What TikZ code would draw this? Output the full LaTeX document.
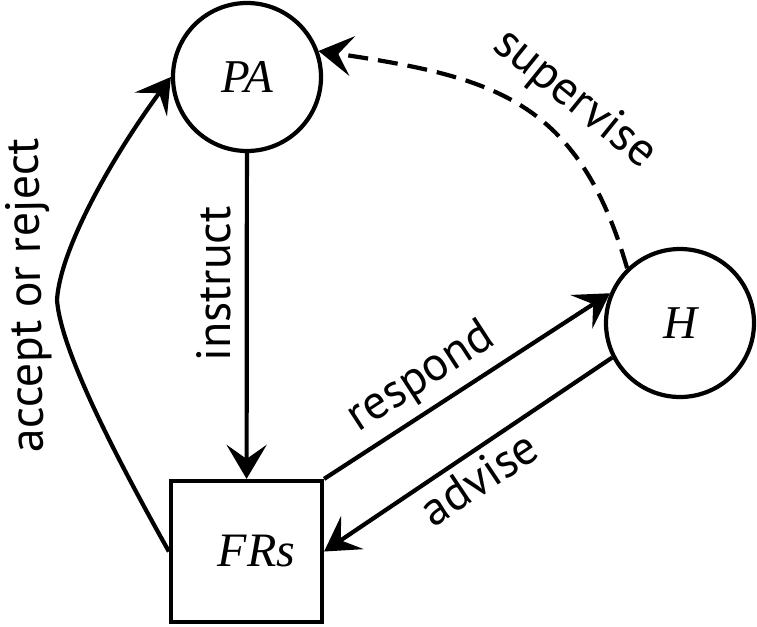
\documentclass[tikz,border=0pt]{standalone}
\usepackage{fontspec}
\setmainfont{Liberation Serif}
\newfontfamily\labfont{PT Sans}
\usetikzlibrary{arrows.meta}
\begin{document}
\begin{tikzpicture}[x=1pt,y=-1pt,line width=4.2pt,
  arr/.style={-{Stealth[length=34pt,width=40pt,inset=14pt]}},
  circ/.style={draw,circle,minimum size=148pt,inner sep=0pt,
    font=\fontsize{47}{50}\selectfont\itshape},
  boxnode/.style={draw,rectangle,minimum width=151pt,minimum height=141pt,
    inner sep=0pt,font=\fontsize{48}{50}\selectfont\itshape},
  lab/.style={font=\labfont\fontsize{48}{52}\selectfont,inner sep=0pt}]
\useasboundingbox (0,0) rectangle (757,626);
\node[circ] (PA) at (247,77) {PA};
\node[circ] (H) at (680,323) {H};
\node[boxnode] (FRs) at (246.5,551.5) {\hspace*{20pt}FRs};
% instruct
\draw[arr] (PA) -- (FRs);
\node[lab,rotate=90,anchor=base] (linstruct) at (230,284) {instruct};
% accept or reject
\draw[arr] (FRs.west) .. controls (95,420) and (60,340) .. (57,300)
  .. controls (60,250) and (110,160) .. (PA.west);
\node[lab,rotate=91,anchor=base] (laccept) at (41,295) {accept or reject};
% respond
\draw[arr] (FRs.north east) -- (H.157);
\node[lab,rotate=33,anchor=base] (lrespond) at (428,388) {respond};
% advise
\draw[arr] (H.207) -- (FRs.east);
\node[lab,rotate=33.7,anchor=base] (ladvise) at (488,492) {advise};
% supervise
\draw[arr,dash pattern=on 20pt off 10pt] (H.134) .. controls (578,99) and (493,77) .. (PA.20);
\node[lab,rotate=-39,anchor=base] (lsupervise) at (567,109) {supervise};
\end{tikzpicture}
\end{document}
